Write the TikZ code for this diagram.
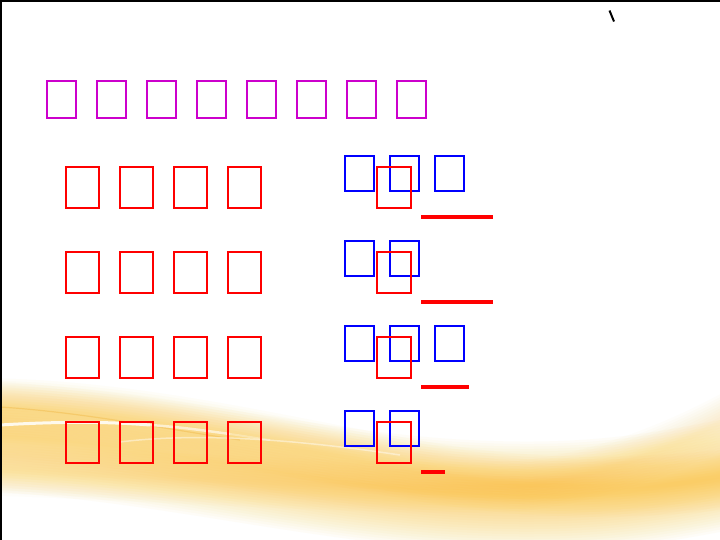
\documentclass[tikz,border=0pt]{standalone}
\usetikzlibrary{positioning}
\definecolor{titlepurple}{RGB}{204,0,204}
\definecolor{boxred}{RGB}{255,0,0}
\definecolor{boxblue}{RGB}{0,0,255}
\definecolor{bandcol}{RGB}{250,196,50}
\definecolor{bandline}{RGB}{235,170,40}
\tikzset{
  tofu/.style={draw, rectangle, inner sep=0pt, line width=1.7pt},
  titlebox/.style={tofu, draw=titlepurple, minimum width=29.5pt, minimum height=37.5pt},
  redbox/.style={tofu, draw=boxred, minimum width=33.5pt, minimum height=41.5pt},
  bluebox/.style={tofu, draw=boxblue, minimum width=28.5pt, minimum height=35.5pt},
  blank/.style={draw=boxred, line width=3.6pt},
}
\begin{document}
\begin{tikzpicture}[x=1pt,y=-1pt]
\useasboundingbox (0,0) rectangle (720,540);
\fill[white] (0,0) rectangle (720,540);
% soft yellow swoosh
\begin{scope}
\foreach \k in {1,...,22}
  \draw[bandcol, line width={5*\k}, opacity=0.035] (-20,436) .. controls (150,444) and (300,484) .. (450,494) .. controls (580,502) and (650,490) .. (740,472);
\foreach \k in {1,...,12}
  \draw[bandcol, line width={5*\k}, opacity=0.03] (-20,408) .. controls (150,410) and (300,452) .. (450,476) .. controls (560,492) and (650,488) .. (740,478);
\foreach \k in {1,...,10}
  \draw[bandcol, line width={5*\k}, opacity=0.025] (-20,470) .. controls (200,478) and (400,492) .. (520,486) .. controls (600,478) and (680,445) .. (740,412);
\draw[bandline, line width=1.2pt, opacity=0.3] (0,407) .. controls (80,412) and (160,428) .. (240,440);
\draw[white, line width=3pt, opacity=0.85] (0,425) .. controls (50,422) and (100,421) .. (150,425);
\draw[white, line width=2.5pt, opacity=0.6] (150,425) .. controls (180,427) and (200,430) .. (230,434);
\draw[white, line width=2pt, opacity=0.3] (230,434) .. controls (245,436) and (255,438) .. (270,440);
\draw[white, line width=1.5pt, opacity=0.45] (120,442) .. controls (200,432) and (300,440) .. (400,455);
\end{scope}
% frame lines
\draw[black, line width=1.6pt] (0,0.8) -- (720,0.8);
\draw[black, line width=1.6pt] (0.8,0) -- (0.8,540);
% small stroke top right
\coordinate (s1) at (609.5,10.5);
\coordinate (s2) at (614,21.5);
\draw[black, line width=2pt] (s1) -- (s2);
% title row
\foreach \i in {0,...,7}
  \node[titlebox] (t\i) at ({61.5+50*\i},99.5) {};
% left column, four rows of four
\foreach \j in {0,...,3}{
  \foreach \i in {0,...,3}
    \node[redbox] (l\j\i) at ({82.5+54*\i},{187.5+85*\j}) {};
}
% right column blue boxes
\foreach \j/\n in {0/2,1/1,2/2,3/1}{
  \foreach \i in {0,...,\n}
    \node[bluebox] (b\j\i) at ({359.5+45*\i},{173.5+85*\j}) {};
  \node[redbox] (r\j) at (394,{187.5+85*\j}) {};
}
% blanks
\foreach \j/\e in {0/493,1/493,2/469,3/445}{
  \coordinate (u\j a) at (421,{217+85*\j});
  \coordinate (u\j b) at (\e,{217+85*\j});
  \draw[blank] (u\j a) -- (u\j b);
}
\end{tikzpicture}
\end{document}
